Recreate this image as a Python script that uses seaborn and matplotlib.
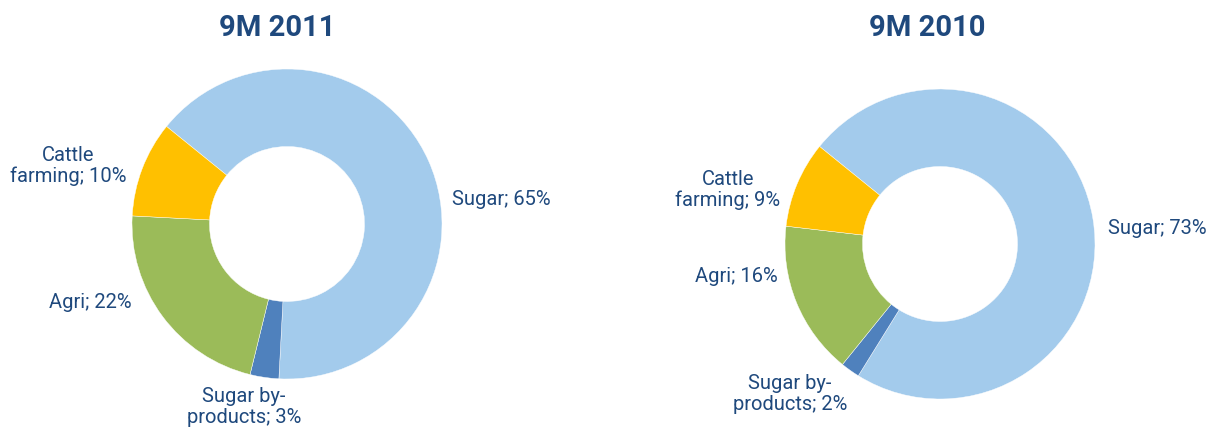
import matplotlib
matplotlib.use("Agg")
import matplotlib.pyplot as plt
import seaborn as sns

sns.set_theme(style="white")
plt.rcParams['font.family'] = ['Roboto', 'DejaVu Sans']

categories = ["Sugar", "Sugar by-\nproducts", "Agri", "Cattle\nfarming"]
values_2011 = [65, 3, 22, 10]
values_2010 = [73, 2, 16, 9]
titles = ["9M 2011", "9M 2010"]
colors = ["#A3CBEC", "#4F81BD", "#9BBB59", "#FFC000"]
text_color = "#1F497D"

W, H = 1208, 428
fig = plt.figure(figsize=(W / 100, H / 100), dpi=100)
ax = fig.add_axes([0, 0, 1, 1])
ax.set_xlim(0, W)
ax.set_ylim(0, H)
ax.set_aspect("equal")
ax.axis("off")

# layout: (center_x, center_y from top), radius, title x, label positions (x, y from top)
layouts = [
    dict(cx=287, cy=224, r=155, tx=277,
         lab=[(501, 199), (244, 407), (90, 303), (68, 166)]),
    dict(cx=940, cy=244, r=155, tx=927,
         lab=[(1157, 228), (790, 394), (736, 277), (728, 190)]),
]

for vals, title, lay in zip([values_2011, values_2010], titles, layouts):
    ax.pie(vals, colors=colors, startangle=141, counterclock=False,
           center=(lay["cx"], H - lay["cy"]), radius=lay["r"],
           wedgeprops=dict(width=lay["r"] * 0.5, edgecolor="white", linewidth=0.3))
    ax.text(lay["tx"], H - 28, title, ha="center", va="center",
            fontsize=21, fontweight="bold", color=text_color)
    for cat, v, (lx, ly) in zip(categories, vals, lay["lab"]):
        ax.text(lx, H - ly, f"{cat}; {v}%", ha="center", va="center",
                fontsize=14.5, color=text_color, linespacing=1.1,
                multialignment="center")

ax.set_xlim(0, W)
ax.set_ylim(0, H)
fig.savefig("out.png", dpi=100, facecolor="white")
